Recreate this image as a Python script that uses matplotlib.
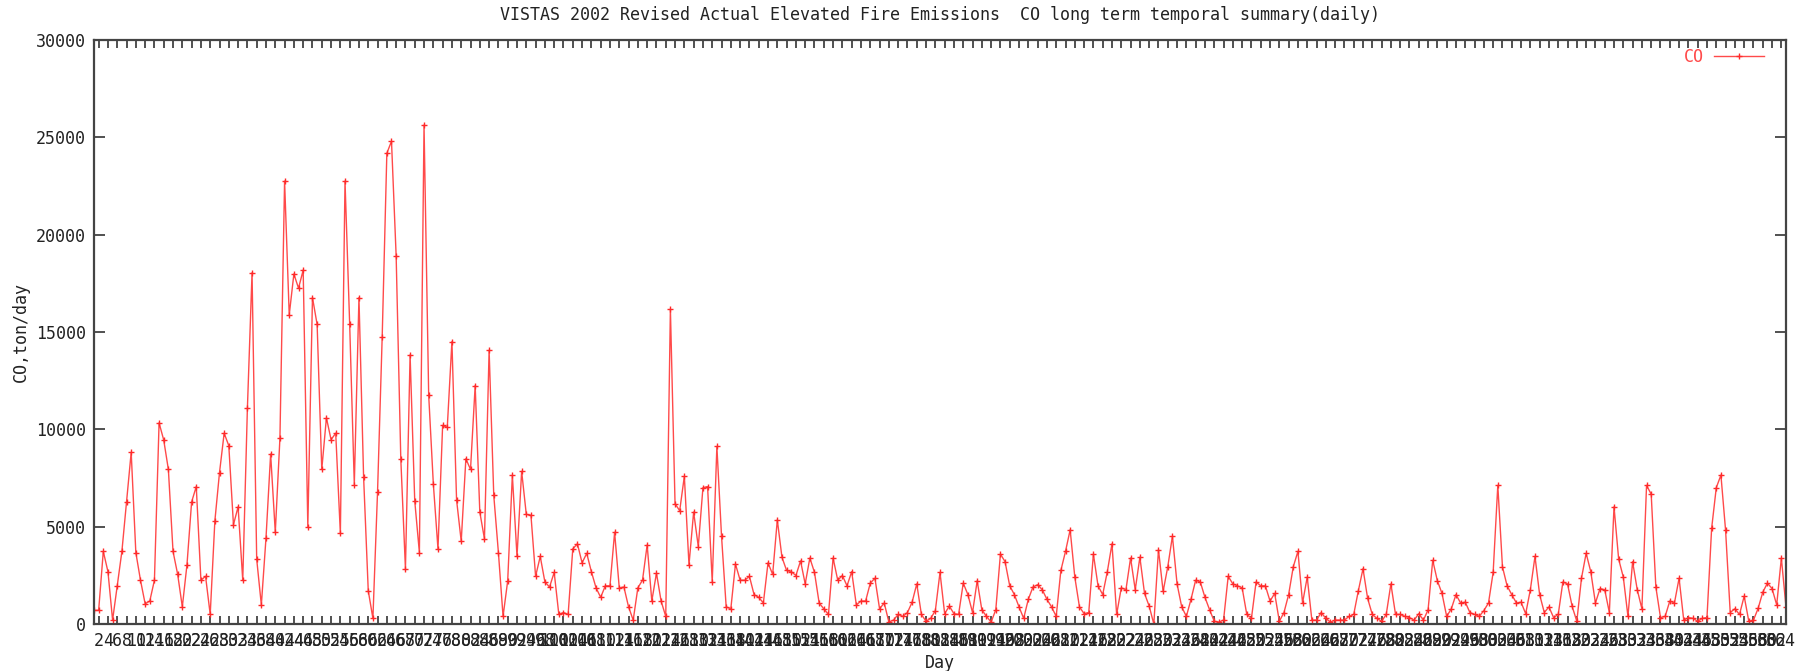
import matplotlib.pyplot as plt
import numpy as np

title = 'VISTAS 2002 Revised Actual Elevated Fire Emissions  CO long term temporal summary(daily)'
series_name = 'CO'
y_label = 'CO,ton/day'
x_label = 'Day'

# daily CO, ton/day (day 1 .. 365)
co_q1 = [700, 700, 3730, 2690, 200, 1960, 3730, 6270, 8820, 3670,
         2250, 1040, 1180, 2250, 10330, 9450, 7940, 3730, 2550, 880,
         3040, 6270, 7060, 2250, 2450, 490, 5290, 7780, 9800, 9160,
         5100, 6020, 2250, 11080, 18040, 3330, 980, 4410, 8730, 4710,
         9550, 22750, 15880, 17980, 17250, 18180, 5000, 16770, 15390, 7940,
         10590, 9470, 9800, 4650, 22750, 15430, 7160, 16770, 7550, 1710,
         290, 6800, 14760, 24180, 24800, 18920, 8490, 2840, 13820, 6330,
         3670, 25630, 11760, 7200, 3860, 10200, 10100, 14510, 6370, 4250,
         8490, 7940, 12250, 5750, 4370, 14060, 6610, 3670, 390, 2220]
co_q2 = [7650, 3470, 7840, 5630, 5590, 2450, 3470, 2160, 1900, 2650,
         490, 590, 490, 3860, 4120, 3140, 3630, 2690, 1860, 1370,
         1960, 1960, 4710, 1860, 1900, 880, 200, 1860, 2250, 4060,
         1180, 2610, 1180, 390, 16180, 6180, 5820, 7590, 3040, 5750,
         3980, 7000, 7060, 2160, 9120, 4510, 880, 780, 3080, 2250,
         2250, 2450, 1510, 1370, 1080, 3140, 2550, 5350, 3430, 2750,
         2690, 2490, 3240, 2060, 3390, 2650, 1080, 780, 490, 3390,
         2250, 2490, 1960, 2690, 980, 1180, 1180, 2100, 2350, 780,
         1080, 100, 200, 490, 390, 590, 1120, 2060, 490, 140, 290]
co_q3 = [690, 2650, 530, 920, 530, 490, 2100, 1510, 590, 2220,
         730, 390, 100, 730, 3590, 3200, 1960, 1510, 880, 290,
         1270, 1900, 2020, 1760, 1270, 880, 390, 2750, 3730, 4840,
         2410, 880, 530, 590, 3590, 1960, 1510, 2690, 4120, 490,
         1860, 1760, 3390, 1760, 3430, 1570, 920, 0, 3820, 1670,
         2940, 4510, 2060, 880, 390, 1270, 2250, 2160, 1370, 730,
         140, 100, 200, 2450, 2060, 1960, 1860, 490, 290, 2160,
         1960, 1960, 1180, 1570, 140, 590, 1510, 2940, 3730, 1080,
         2410, 200, 200, 590, 290, 100, 200, 200, 200, 390, 490, 1710]
co_q4 = [2840, 1310, 490, 290, 140, 490, 2060, 490, 490, 390,
         330, 200, 530, 200, 730, 3270, 2220, 1570, 390, 780,
         1510, 1080, 1120, 590, 490, 390, 690, 1080, 2650, 7120,
         2940, 1960, 1510, 1080, 1120, 530, 1760, 3470, 1510, 590,
         880, 330, 490, 2160, 2060, 900, 140, 2350, 3630, 2690,
         1080, 1820, 1760, 590, 6020, 3330, 2410, 390, 3200, 1760,
         780, 7120, 6670, 1900, 330, 390, 1180, 1080, 2350, 200,
         330, 290, 140, 290, 330, 4910, 7000, 7650, 4820, 590,
         780, 490, 1430, 140, 200, 800, 1630, 2100, 1820, 980, 3390, 880]

co = co_q1 + co_q2 + co_q3 + co_q4
days = np.arange(1, len(co) + 1)

x_ticks = list(range(2, 365, 2))
y_ticks = [0, 5000, 10000, 15000, 20000, 25000, 30000]

plt.rcParams['font.family'] = ['DejaVu Sans Mono']
W, H = 1803, 671
fs = 12
fig = plt.figure(figsize=(W / 100, H / 100), dpi=100)
ax = fig.add_axes([94 / W, 1 - 624 / H, (1786 - 94) / W, (624 - 40) / H])

ax.plot(days, co, color='#ff4a4a', lw=1.0, marker='+', ms=5, mew=1.0,
        mec='#ff2a2a', label=series_name)

ax.set_xlim(days[0], days[-1])
ax.set_ylim(0, 30000)
ax.set_xticks(x_ticks)
ax.set_xticklabels([str(t) for t in x_ticks], fontsize=fs, color='#222222')
ax.set_yticks(y_ticks)
ax.set_yticklabels([str(t) for t in y_ticks], fontsize=fs, color='#222222')
ax.tick_params(axis='x', direction='in', top=True, length=6, width=1.2,
               color='#333333', pad=6)
ax.tick_params(axis='y', direction='in', right=True, length=8, width=1.2,
               color='#333333', pad=6)
for s in ax.spines.values():
    s.set_color('#444444')
    s.set_linewidth(1.6)

leg = ax.legend(loc='upper right', frameon=False, markerfirst=False,
                handlelength=3.0, handletextpad=0.6, fontsize=fs,
                borderaxespad=0.2, bbox_to_anchor=(0.993, 1.003))
for t in leg.get_texts():
    t.set_color('#ff4a4a')

fig.text(940 / W, 1 - 15 / H, title, ha='center', va='center', fontsize=fs, color='#222222')
fig.text(21 / W, 1 - 332 / H, y_label, rotation=90, ha='center', va='center',
         fontsize=fs, color='#222222')
fig.text(940 / W, 1 - 663 / H, x_label, ha='center', va='center', fontsize=fs, color='#222222')

fig.savefig('out.png', dpi=100)
